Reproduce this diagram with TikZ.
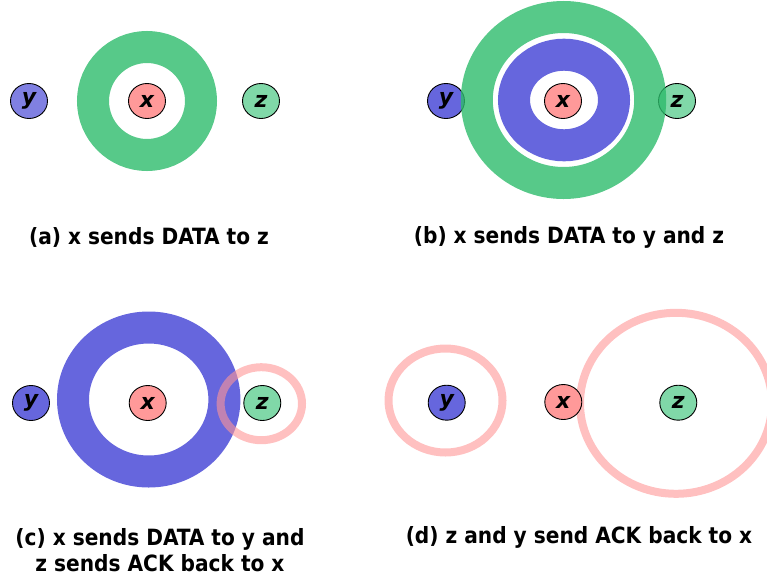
\documentclass[tikz,border=0pt]{standalone}
\usepackage{fontspec}
\usetikzlibrary{shapes.geometric}
\newfontfamily\capfont{DejaVu Sans Condensed}
\newfontfamily\lblfont{DejaVu Sans}

\definecolor{nodeblue}{RGB}{102,102,221}
\definecolor{nodeblueL}{RGB}{128,128,226}
\definecolor{nodered}{RGB}{255,153,153}
\definecolor{nodegreen}{RGB}{128,216,168}
\definecolor{ringgreen}{RGB}{45,187,107}
\definecolor{ringblue}{RGB}{102,102,221}
\definecolor{ringpink}{RGB}{255,150,150}

\tikzset{
  station/.style={ellipse, draw=black, line width=0.9pt, minimum width=37pt,
    minimum height=35pt, inner sep=0pt,
    font=\lblfont\bfseries\itshape\fontsize{22}{22}\selectfont},
  greenring/.style={draw=ringgreen, draw opacity=0.8, line width=32pt},
  bluering/.style={draw=ringblue, line width=32pt},
  pinkring/.style={draw=ringpink, draw opacity=0.6, line width=8pt},
  caption/.style={align=center, font=\capfont\bfseries\fontsize{22.4}{26}\selectfont}
}

\begin{document}
\begin{tikzpicture}[x=1pt, y=-1pt]
\useasboundingbox (0,0) rectangle (767,578);

% (a) x sends DATA to z
\draw[greenring] (147,101) circle [radius=54pt];
\node[station, fill=nodeblueL] (ya) at (29,101) {y};
\node[station, fill=nodered] (xa) at (147,101) {x};
\node[station, fill=nodegreen] (za) at (261,101) {z};
\node[caption] (capa) at (149,237) {(a) x sends DATA to z};

% (b) x sends DATA to y and z
\node[station, fill=nodeblue] (yb) at (446,101) {y};
\node[station, fill=nodegreen] (zb) at (677,101) {z};
\draw[bluering] (564,100) ellipse [x radius=50pt, y radius=45.3pt];
\draw[greenring] (563.5,100) ellipse [x radius=86.7pt, y radius=83pt];
\node[station, fill=nodered] (xb) at (563,101) {x};
\node[caption] (capb) at (569,237) {(b) x sends DATA to y and z};

% (c) x sends DATA to y, z sends ACK back to x
\draw[bluering] (148.7,399.5) ellipse [x radius=75.7pt, y radius=72pt];
\draw[pinkring] (261.3,403.7) ellipse [x radius=40.7pt, y radius=36.5pt];
\node[station, fill=nodeblue] (yc) at (31,403) {y};
\node[station, fill=nodered] (xc) at (147.7,403) {x};
\node[station, fill=nodegreen] (zc) at (262.3,403) {z};
\node[caption] (capc) at (160,550.5) {(c) x sends DATA to y and\\z sends ACK back to x};

% (d) z and y send ACK back to x
\draw[pinkring] (445.5,400.5) ellipse [x radius=57pt, y radius=52pt];
\draw[pinkring] (676,403.3) ellipse [x radius=96pt, y radius=90.5pt];
\node[station, fill=nodeblue] (yd) at (446.7,402.7) {y};
\node[station, fill=nodered] (xd) at (563.3,402) {x};
\node[station, fill=nodegreen] (zd) at (678.3,402.7) {z};
\node[caption] (capd) at (579,537) {(d) z and y send ACK back to x};
\end{tikzpicture}
\end{document}
